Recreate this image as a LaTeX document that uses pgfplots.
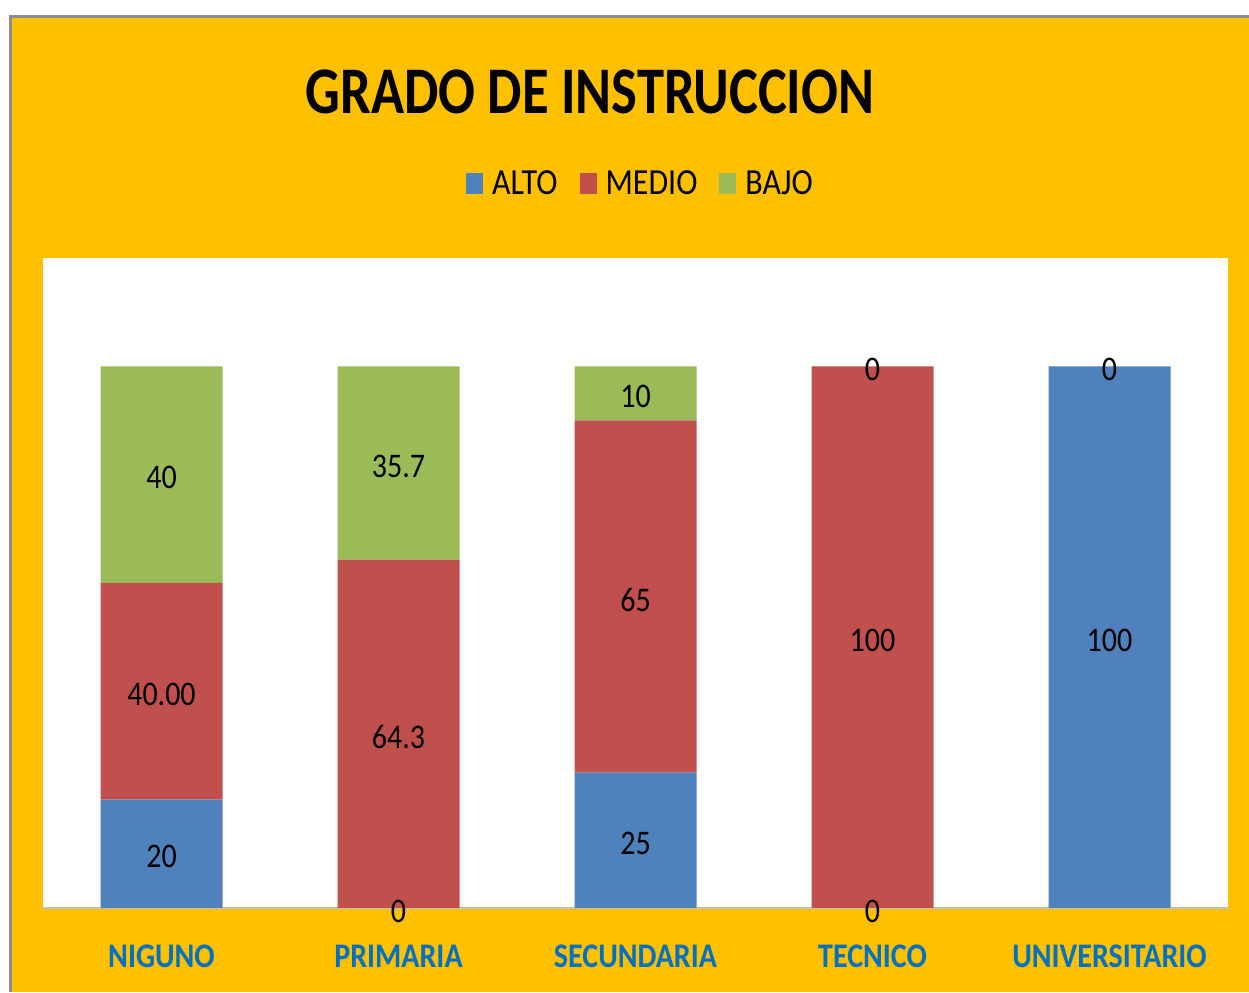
\documentclass[border=0pt]{standalone}
\usepackage{pgfplots}
\pgfplotsset{compat=1.18}
\usepackage{fontspec}
\setmainfont{Carlito}
\usepackage{graphicx}
\definecolor{bg}{HTML}{FFC000}
\definecolor{alto}{HTML}{4F81BD}
\definecolor{medio}{HTML}{C0504D}
\definecolor{bajo}{HTML}{9BBB59}
\definecolor{xlab}{HTML}{0070C0}
\newcommand{\vs}[1]{\scalebox{1}[1.15]{#1}}
\begin{document}
\begin{tikzpicture}
\useasboundingbox (0,0) rectangle (624.5pt,496pt);
\fill[white] (0,0) rectangle (624.5pt,496pt);
\fill[gray!90] (4.5pt,0) rectangle (624.5pt,488.5pt);
\fill[bg] (6pt,0) rectangle (624.5pt,487pt);
\begin{axis}[
  at={(21.5pt,42pt)}, anchor=south west,
  width=592.5pt, height=325pt, scale only axis,
  ybar stacked, bar width=61pt,
  xmin=-0.5, xmax=4.5, ymin=0, ymax=120,
  axis background/.style={fill=white},
  axis x line*=bottom, axis y line*=none,
  x axis line style={draw=gray!50, line width=1pt, -},
  y axis line style={draw=none},
  xtick={0,1,2,3,4},
  xticklabels={\vs{NIGUNO},\vs{PRIMARIA},\vs{SECUNDARIA},\vs{TECNICO},\vs{UNIVERSITARIO}},
  major tick length=0pt, ytick=\empty,
  xticklabel style={font=\fontsize{15}{18}\selectfont\bfseries, text=xlab, anchor=center, yshift=-24pt},
  legend style={at={(0.505,1.114)}, anchor=center, draw=none, fill=none,
    font=\fontsize{16}{19}\selectfont, legend columns=-1,
    /tikz/every odd column/.append style={column sep=2.5pt},
    /tikz/every even column/.append style={column sep=9pt},
    inner sep=0pt},
  legend image code/.code={\fill[#1] (0pt,-5.2pt) rectangle (8.5pt,5.2pt);},
  clip=false,
]
\addplot[fill=alto, draw=none] coordinates {(0,20) (1,0) (2,25) (3,0) (4,100)};
\addplot[fill=medio, draw=none] coordinates {(0,40) (1,64.3) (2,65) (3,100) (4,0)};
\addplot[fill=bajo, draw=none] coordinates {(0,40) (1,35.7) (2,10) (3,0) (4,0)};
\legend{\vs{ALTO},\vs{MEDIO},\vs{BAJO}}
\node at (rel axis cs:0.4616,1.255) {\scalebox{1}[1.22]{\fontsize{27.3}{32}\selectfont\bfseries GRADO DE INSTRUCCION}};
\end{axis}
\begin{axis}[
  at={(21.5pt,42pt)}, anchor=south west,
  width=592.5pt, height=325pt, scale only axis,
  xmin=-0.5, xmax=4.5, ymin=0, ymax=120,
  hide axis, clip=false,
]
\addplot[only marks, mark=none, nodes near coords={\vs{\pgfplotspointmeta}}, point meta=explicit symbolic,
  every node near coord/.style={anchor=center, yshift=-1.5pt, font=\fontsize{15}{18}\selectfont, text=black}]
  table[meta=label] {
x y label
0 10 20
0 40 40.00
0 80 40
1 0 0
1 32.15 64.3
1 82.15 35.7
2 12.5 25
2 57.5 65
2 95 10
3 0 0
3 50 100
3 100 0
4 50 100
4 100 0
};
\end{axis}
\end{tikzpicture}
\end{document}
